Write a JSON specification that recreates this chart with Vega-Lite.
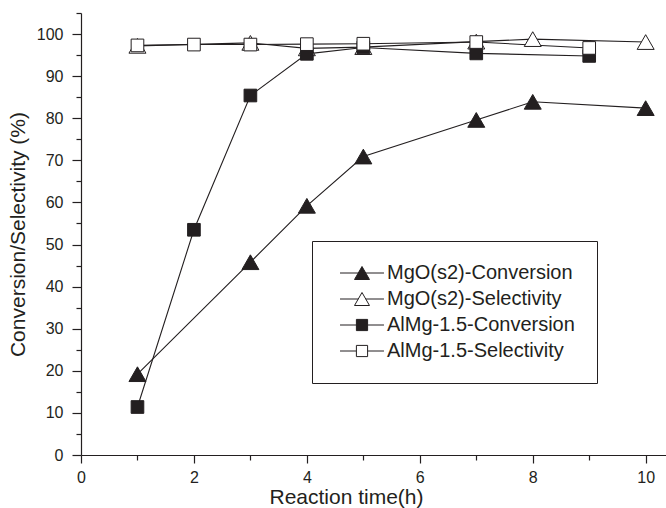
{
  "$schema": "https://vega.github.io/schema/vega-lite/v6.json",
  "autosize": {"type": "none"},
  "padding": {"left": 81, "top": 13, "right": 0, "bottom": 53},
  "width": 585,
  "height": 442,
  "background": "white",
  "config": {
    "view": {"stroke": null},
    "axis": {
      "grid": false,
      "domainColor": "#231f20",
      "tickColor": "#231f20",
      "labelColor": "#231f20",
      "titleColor": "#231f20",
      "labelFont": "Liberation Sans",
      "titleFont": "Liberation Sans",
      "labelFontSize": 16,
      "titleFontSize": 21,
      "titleFontWeight": "normal",
      "domainWidth": 1.2,
      "tickWidth": 1.2
    },
    "legend": {"labelFont": "Liberation Sans"}
  },
  "data": {
    "values": [
      {"s": "MgO(s2)-Conversion", "t": 1, "v": 19.2},
      {"s": "MgO(s2)-Conversion", "t": 3, "v": 45.8},
      {"s": "MgO(s2)-Conversion", "t": 4, "v": 59.2},
      {"s": "MgO(s2)-Conversion", "t": 5, "v": 70.9},
      {"s": "MgO(s2)-Conversion", "t": 7, "v": 79.6},
      {"s": "MgO(s2)-Conversion", "t": 8, "v": 83.9},
      {"s": "MgO(s2)-Conversion", "t": 10, "v": 82.4},
      {"s": "MgO(s2)-Selectivity", "t": 1, "v": 97.2},
      {"s": "MgO(s2)-Selectivity", "t": 3, "v": 97.9},
      {"s": "MgO(s2)-Selectivity", "t": 4, "v": 96.6},
      {"s": "MgO(s2)-Selectivity", "t": 5, "v": 96.9},
      {"s": "MgO(s2)-Selectivity", "t": 7, "v": 98.2},
      {"s": "MgO(s2)-Selectivity", "t": 8, "v": 98.8},
      {"s": "MgO(s2)-Selectivity", "t": 10, "v": 98.1},
      {"s": "AlMg-1.5-Conversion", "t": 1, "v": 11.4},
      {"s": "AlMg-1.5-Conversion", "t": 2, "v": 53.5},
      {"s": "AlMg-1.5-Conversion", "t": 3, "v": 85.4},
      {"s": "AlMg-1.5-Conversion", "t": 4, "v": 95.3},
      {"s": "AlMg-1.5-Conversion", "t": 5, "v": 96.8},
      {"s": "AlMg-1.5-Conversion", "t": 7, "v": 95.4},
      {"s": "AlMg-1.5-Conversion", "t": 9, "v": 94.8},
      {"s": "AlMg-1.5-Selectivity", "t": 1, "v": 97.3},
      {"s": "AlMg-1.5-Selectivity", "t": 2, "v": 97.5},
      {"s": "AlMg-1.5-Selectivity", "t": 3, "v": 97.5},
      {"s": "AlMg-1.5-Selectivity", "t": 4, "v": 97.6},
      {"s": "AlMg-1.5-Selectivity", "t": 5, "v": 97.7},
      {"s": "AlMg-1.5-Selectivity", "t": 7, "v": 98.1},
      {"s": "AlMg-1.5-Selectivity", "t": 9, "v": 96.7}
    ]
  },
  "encoding": {
    "x": {
      "field": "t", "type": "quantitative",
      "scale": {"domain": [0, 10.36], "nice": false, "zero": false},
      "axis": {
        "title": "Reaction time(h)",
        "titleX": 265,
        "titleAlign": "center",
        "values": [0,1,2,3,4,5,6,7,8,9,10],
        "labelExpr": "datum.value % 2 === 0 ? datum.label : ''",
        "tickSize": {"condition": {"test": "datum.value % 2 === 0", "value": 8}, "value": 5},
        "labelPadding": 6,
        "titlePadding": 1,
        "labelFlush": false,
        "labelOverlap": false
      }
    },
    "y": {
      "field": "v", "type": "quantitative",
      "scale": {"domain": [0, 105], "nice": false},
      "axis": {
        "title": "Conversion/Selectivity (%)",
        "values": [0,5,10,15,20,25,30,35,40,45,50,55,60,65,70,75,80,85,90,95,100,105],
        "labelExpr": "datum.value % 10 === 0 ? datum.label : ''",
        "tickSize": {"condition": {"test": "datum.value % 10 === 0", "value": 9}, "value": 5},
        "labelPadding": 9,
        "titlePadding": 8,
        "labelFlush": false,
        "labelOverlap": false
      }
    }
  },
  "layer": [
    {
      "mark": {"type": "line", "color": "#231f20", "strokeWidth": 1.1},
      "encoding": {
        "detail": {"field": "s"},
        "order": {"field": "t"}
      }
    },
    {
      "mark": {"type": "point", "filled": true, "stroke": "#231f20", "strokeWidth": 1, "opacity": 1},
      "encoding": {
        "shape": {
          "field": "s",
          "scale": {
            "domain": ["MgO(s2)-Conversion", "MgO(s2)-Selectivity", "AlMg-1.5-Conversion", "AlMg-1.5-Selectivity"],
            "range": ["triangle-up", "triangle-up", "square", "square"]
          },
          "legend": null
        },
        "fill": {
          "field": "s",
          "scale": {
            "domain": ["MgO(s2)-Conversion", "MgO(s2)-Selectivity", "AlMg-1.5-Conversion", "AlMg-1.5-Selectivity"],
            "range": ["#231f20", "white", "#231f20", "white"]
          },
          "legend": null
        },
        "size": {
          "field": "s",
          "scale": {
            "type": "ordinal",
            "domain": ["MgO(s2)-Conversion", "MgO(s2)-Selectivity", "AlMg-1.5-Conversion", "AlMg-1.5-Selectivity"],
            "range": [289, 289, 160, 160]
          },
          "legend": null
        }
      }
    },
    {
      "mark": {"type": "point", "filled": true, "opacity": 0, "size": 196, "strokeWidth": 1},
      "encoding": {
        "shape": {
          "field": "s",
          "scale": {
            "domain": ["MgO(s2)-Conversion", "MgO(s2)-Selectivity", "AlMg-1.5-Conversion", "AlMg-1.5-Selectivity"],
            "range": [
              "M-3.14,0H-0.53M0.53,0H3.14M0,-0.93L-1.07,0.93L1.07,0.93Z",
              "M-3.14,0H-0.53M0.53,0H3.14M0,-0.93L-1.07,0.93L1.07,0.93Z",
              "M-3.14,0H-0.8M0.8,0H3.14M-0.8,-0.8H0.8V0.8H-0.8Z",
              "M-3.14,0H-0.8M0.8,0H3.14M-0.8,-0.8H0.8V0.8H-0.8Z"
            ]
          },
          "legend": {
            "title": null,
            "orient": "none",
            "legendX": 231,
            "legendY": 228,
            "padding": 22,
            "strokeColor": "#231f20",
            "fillColor": "white",
            "symbolSize": 196,
            "symbolOpacity": 1,
            "symbolStrokeWidth": 1,
            "symbolOffset": 18,
            "labelOffset": 15,
            "labelFontSize": 20,
            "labelColor": "#231f20",
            "labelLimit": 400,
            "rowPadding": 6
          }
        },
        "fill": {
          "field": "s",
          "scale": {
            "domain": ["MgO(s2)-Conversion", "MgO(s2)-Selectivity", "AlMg-1.5-Conversion", "AlMg-1.5-Selectivity"],
            "range": ["#231f20", "white", "#231f20", "white"]
          }
        },
        "stroke": {
          "field": "s",
          "scale": {
            "domain": ["MgO(s2)-Conversion", "MgO(s2)-Selectivity", "AlMg-1.5-Conversion", "AlMg-1.5-Selectivity"],
            "range": ["#231f20", "#231f20", "#231f20", "#231f20"]
          }
        }
      }
    }
  ],
  "resolve": {"scale": {"shape": "independent", "fill": "independent", "size": "independent", "stroke": "independent"}}
}
